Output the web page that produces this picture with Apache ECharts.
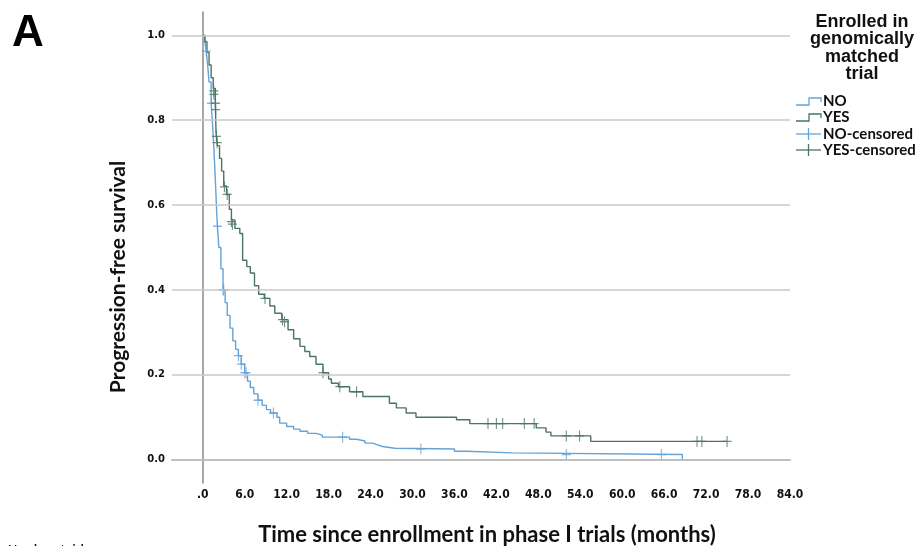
<!DOCTYPE html>
<html>
<head>
<meta charset="utf-8">
<script src="https://cdn.jsdelivr.net/npm/echarts@6/dist/echarts.min.js"></script>
<style>
  html, body { margin: 0; padding: 0; background: #ffffff; }
  #chart { width: 916px; height: 546px; }
</style>
</head>
<body>
<div id="chart"></div>
<script>
// Kaplan-Meier progression-free survival, months since enrollment
const noTime = [0, 0.3, 0.5, 0.7, 0.9, 1.2, 1.4, 1.6, 1.8, 2.0, 2.1, 2.3, 2.6, 2.9, 3.2, 3.5, 3.9, 4.3, 4.7, 5.1, 5.5, 6.0, 6.4, 6.8, 7.3, 7.9, 8.5, 9.1, 9.7, 10.6, 11.0, 12.0, 13.0, 13.9, 15.0, 16.2, 17.1, 21.0, 22.0, 23.2, 24.3, 25.0, 25.7, 27.5, 36.0, 37.7, 44.3, 68.6];
const noSurv = [1.0, 0.985, 0.963, 0.93, 0.89, 0.84, 0.79, 0.73, 0.66, 0.58, 0.55, 0.50, 0.45, 0.40, 0.37, 0.34, 0.31, 0.28, 0.26, 0.245, 0.225, 0.205, 0.185, 0.17, 0.155, 0.14, 0.128, 0.118, 0.11, 0.10, 0.086, 0.078, 0.072, 0.067, 0.062, 0.058, 0.053, 0.048, 0.044, 0.039, 0.035, 0.031, 0.027, 0.025, 0.020, 0.016, 0.012, 0.0];
const noCensTime = [0.5, 1.25, 2.1, 2.9, 3.0, 5.1, 5.5, 6.0, 6.2, 7.9, 10.1, 20.0, 31.2, 52.0, 65.6];
const noCensSurv = [0.963, 0.84, 0.55, 0.40, 0.40, 0.245, 0.225, 0.205, 0.205, 0.14, 0.11, 0.053, 0.025, 0.012, 0.012];

const yesTime = [0, 0.3, 0.6, 0.9, 1.2, 1.5, 1.8, 1.9, 2.1, 2.4, 2.7, 3.0, 3.4, 3.8, 4.1, 4.6, 5.3, 5.7, 6.3, 6.8, 7.4, 8.0, 8.8, 9.6, 10.3, 11.3, 12.2, 13.0, 13.9, 14.6, 15.3, 16.2, 17.2, 18.0, 18.4, 19.4, 21.0, 22.9, 26.7, 27.7, 29.1, 30.5, 36.3, 38.2, 47.7, 49.1, 49.8, 55.5, 75.0];
const yesSurv = [1.0, 0.985, 0.96, 0.93, 0.90, 0.875, 0.84, 0.77, 0.74, 0.71, 0.68, 0.645, 0.625, 0.59, 0.565, 0.545, 0.533, 0.47, 0.455, 0.44, 0.41, 0.39, 0.38, 0.362, 0.345, 0.33, 0.306, 0.285, 0.267, 0.255, 0.243, 0.225, 0.205, 0.19, 0.18, 0.172, 0.16, 0.149, 0.133, 0.122, 0.11, 0.10, 0.094, 0.085, 0.075, 0.065, 0.056, 0.043, 0.043];
const yesCensTime = [1.57, 1.6, 1.8, 1.85, 1.95, 2.05, 3.1, 3.5, 4.1, 4.25, 8.9, 11.4, 11.7, 17.2, 19.6, 22.0, 40.8, 42.0, 42.9, 46.0, 47.4, 52.0, 53.9, 70.7, 71.4, 75.0];
const yesCensSurv = [0.869, 0.861, 0.84, 0.825, 0.762, 0.747, 0.643, 0.625, 0.561, 0.555, 0.38, 0.33, 0.325, 0.205, 0.172, 0.16, 0.085, 0.085, 0.085, 0.085, 0.085, 0.056, 0.056, 0.043, 0.043, 0.043];

const xTicks = [0, 6, 12, 18, 24, 30, 36, 42, 48, 54, 60, 66, 72, 78, 84];
const yTicks = [0, 0.2, 0.4, 0.6, 0.8, 1.0];

const legendTitle = ['Enrolled in', 'genomically', 'matched', 'trial'];
const legendNames = ['NO', 'YES', 'NO-censored', 'YES-censored'];

const BLUE = '#64a3d8';
const GREEN = '#4b7465';
const GRID = '#c9c9c9';
const AXIS = '#8a8a8a';

const zip = (a, b) => a.map((v, i) => [v, b[i]]);
const plusPath = 'path://M0,4.4 H10 V5.6 H0 Z M4.4,0 H5.6 V10 H4.4 Z';

const chart = echarts.init(document.getElementById('chart'), null, { renderer: 'canvas' });

// legend drawn as a small graphic block
const legendX = 796, legendTextX = 823;
const legendRows = [101, 117, 134, 150];
const legendGraphics = [];
legendTitle.forEach((t, i) => {
  legendGraphics.push({
    type: 'text', x: 862, y: 13 + i * 17.5,
    style: { text: t, fill: '#111', font: 'bold 18px "Liberation Sans", Arial, sans-serif', textAlign: 'center', textVerticalAlign: 'top' }
  });
});
legendNames.forEach((name, i) => {
  const y = legendRows[i];
  const color = i % 2 === 0 ? BLUE : GREEN;
  if (i < 2) {
    legendGraphics.push({
      type: 'polyline', shape: { points: [[legendX, y + 4], [legendX + 13, y + 4], [legendX + 13, y - 3], [legendX + 25, y - 3], [legendX + 25, y + 1]] },
      style: { stroke: color, lineWidth: 1.3, fill: null }
    });
  } else {
    legendGraphics.push({ type: 'line', shape: { x1: legendX, y1: y, x2: legendX + 25, y2: y }, style: { stroke: color, lineWidth: 1.3 } });
    legendGraphics.push({ type: 'line', shape: { x1: legendX + 12.5, y1: y - 6, x2: legendX + 12.5, y2: y + 6 }, style: { stroke: color, lineWidth: 1.3 } });
  }
  legendGraphics.push({
    type: 'text', x: legendTextX, y: y,
    style: { text: name, fill: '#111', font: 'bold 15px Lato, "Open Sans", sans-serif', textAlign: 'left', textVerticalAlign: 'middle' }
  });
});

const option = {
  backgroundColor: '#ffffff',
  animation: false,
  grid: { left: 172, right: 126, top: 12, bottom: 63, containLabel: false },
  xAxis: {
    type: 'value', min: -4.4, max: 84,
    axisLine: { show: true, lineStyle: { color: AXIS, width: 1.5 } },
    axisTick: { show: false },
    splitLine: { show: false },
    axisLabel: {
      customValues: xTicks, margin: 6,
      color: '#111', fontWeight: 'bold', fontSize: 12,
      fontFamily: '"Liberation Sans Narrow", "DejaVu Sans Condensed", sans-serif',
      formatter: v => (v === 0 ? '.0' : v.toFixed(1))
    }
  },
  yAxis: {
    type: 'value', min: -0.055, max: 1.055,
    axisLine: { show: true, lineStyle: { color: AXIS, width: 1.5 } },
    axisTick: { show: false },
    splitLine: { show: false },
    axisLabel: {
      customValues: yTicks, margin: 7,
      color: '#111', fontWeight: 'bold', fontSize: 10,
      fontFamily: '"DejaVu Sans", sans-serif',
      formatter: v => v.toFixed(1)
    }
  },
  graphic: [
    { type: 'text', x: 12, y: 12, style: { text: 'A', fill: '#000', font: 'bold 44px "Liberation Sans", Arial, sans-serif', textVerticalAlign: 'top' } },
    { type: 'text', x: 118, y: 277, rotation: Math.PI / 2,
      style: { text: 'Progression-free survival', fill: '#111', font: 'bold 21px Lato, "Open Sans", sans-serif', textAlign: 'center', textVerticalAlign: 'middle' } },
    { type: 'text', x: 487, y: 535,
      style: { text: 'Time since enrollment in phase I trials (months)', fill: '#111', font: 'bold 22px Lato, "Open Sans", sans-serif', textAlign: 'center', textVerticalAlign: 'middle' } },
    { type: 'text', x: 8, y: 543,
      style: { text: 'Number at risk', fill: '#111', font: 'bold 12px Lato, sans-serif', textVerticalAlign: 'top' } },
    ...legendGraphics
  ],
  series: [
    {
      name: 'gridlines', type: 'line', data: [], z: 0, silent: true,
      markLine: {
        silent: true, symbol: 'none', animation: false,
        label: { show: false },
        lineStyle: { color: GRID, width: 1.5, type: 'solid' },
        data: yTicks.map(v => ({ yAxis: v }))
      }
    },
    {
      name: 'NO', type: 'line', step: 'end', showSymbol: false, z: 3,
      data: zip(noTime, noSurv),
      lineStyle: { color: BLUE, width: 1.4 }
    },
    {
      name: 'YES', type: 'line', step: 'end', showSymbol: false, z: 3,
      data: zip(yesTime, yesSurv),
      lineStyle: { color: GREEN, width: 1.4 }
    },
    {
      name: 'NO-censored', type: 'scatter', z: 4,
      data: zip(noCensTime, noCensSurv),
      symbol: plusPath, symbolSize: [9, 11],
      itemStyle: { color: BLUE }
    },
    {
      name: 'YES-censored', type: 'scatter', z: 4,
      data: zip(yesCensTime, yesCensSurv),
      symbol: plusPath, symbolSize: [9, 11],
      itemStyle: { color: GREEN }
    }
  ]
};

chart.setOption(option);
</script>
</body>
</html>
